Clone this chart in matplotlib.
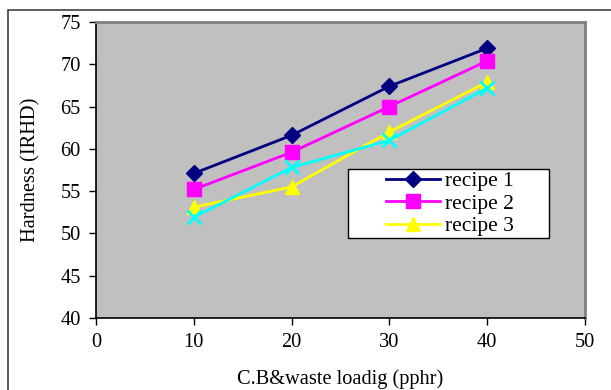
import matplotlib
matplotlib.use("Agg")
import matplotlib.pyplot as plt
from matplotlib.patches import Rectangle

# data
loading = [10, 20, 30, 40]
recipe1 = [57.1, 61.6, 67.4, 71.9]
recipe2 = [55.2, 59.6, 65.0, 70.4]
recipe3 = [53.1, 55.5, 62.0, 67.9]
recipe4 = [51.9, 57.8, 61.0, 67.2]

plt.rcParams['font.family'] = ['Liberation Serif', 'DejaVu Serif']
plt.rcParams['font.size'] = 14.7

W, H = 611, 390
fig = plt.figure(figsize=(W/100, H/100), dpi=100)
ax = fig.add_axes([96/W, 1 - 318/H, (585 - 96)/W, (318 - 22)/H])
ax.set_facecolor('#C0C0C0')

# outer chart border
fig.patches.append(Rectangle((8/W, -0.05), 1.1, 1 - 10/H + 0.05,
                             transform=fig.transFigure, fill=False,
                             edgecolor='#404040', lw=1.2))

ax.plot(loading, recipe1, color='#000080', marker='D', ms=8.5, lw=2, label='recipe 1')
ax.plot(loading, recipe2, color='#FF00FF', marker='s', ms=9.5, lw=2, label='recipe 2')
ax.plot(loading, recipe3, color='#FFFF00', marker='^', ms=9.5, lw=2, label='recipe 3')
ax.plot(loading, recipe4, color='#00FFFF', marker='x', ms=9.5, mew=2, lw=2, label='_nolegend_')

ax.set_xlim(0, 50)
ax.set_ylim(40, 75)
ax.set_xticks(range(0, 51, 10))
ax.set_yticks(range(40, 76, 5))
ax.tick_params(direction='out', length=5, width=1, pad=6)

for s in ['left', 'bottom']:
    ax.spines[s].set_color('black')
    ax.spines[s].set_linewidth(1.2)
for s in ['top', 'right']:
    ax.spines[s].set_color('#808080')
    ax.spines[s].set_linewidth(2)

ax.set_xlabel('C.B&waste loadig (pphr)', labelpad=12)
ax.set_ylabel('Hardness (IRHD)', labelpad=14)

# legend box (white, black edge) drawn separately so the entries sit to the right
def ax_x(px):
    return (px - 96) / 489

def ax_y(py):
    return 1 - (py - 22) / 296

ax.add_patch(Rectangle((ax_x(348), ax_y(238)), ax_x(549) - ax_x(348), ax_y(169) - ax_y(238),
                       transform=ax.transAxes, facecolor='white', edgecolor='black',
                       lw=1, zorder=4.5))
leg = ax.legend(loc='upper left', bbox_to_anchor=(ax_x(386), ax_y(171)),
                frameon=False, handlelength=2.5, borderpad=0, labelspacing=0.12,
                handletextpad=0.25, borderaxespad=0, fontsize=15.5)

fig.savefig('out.png', dpi=100)
